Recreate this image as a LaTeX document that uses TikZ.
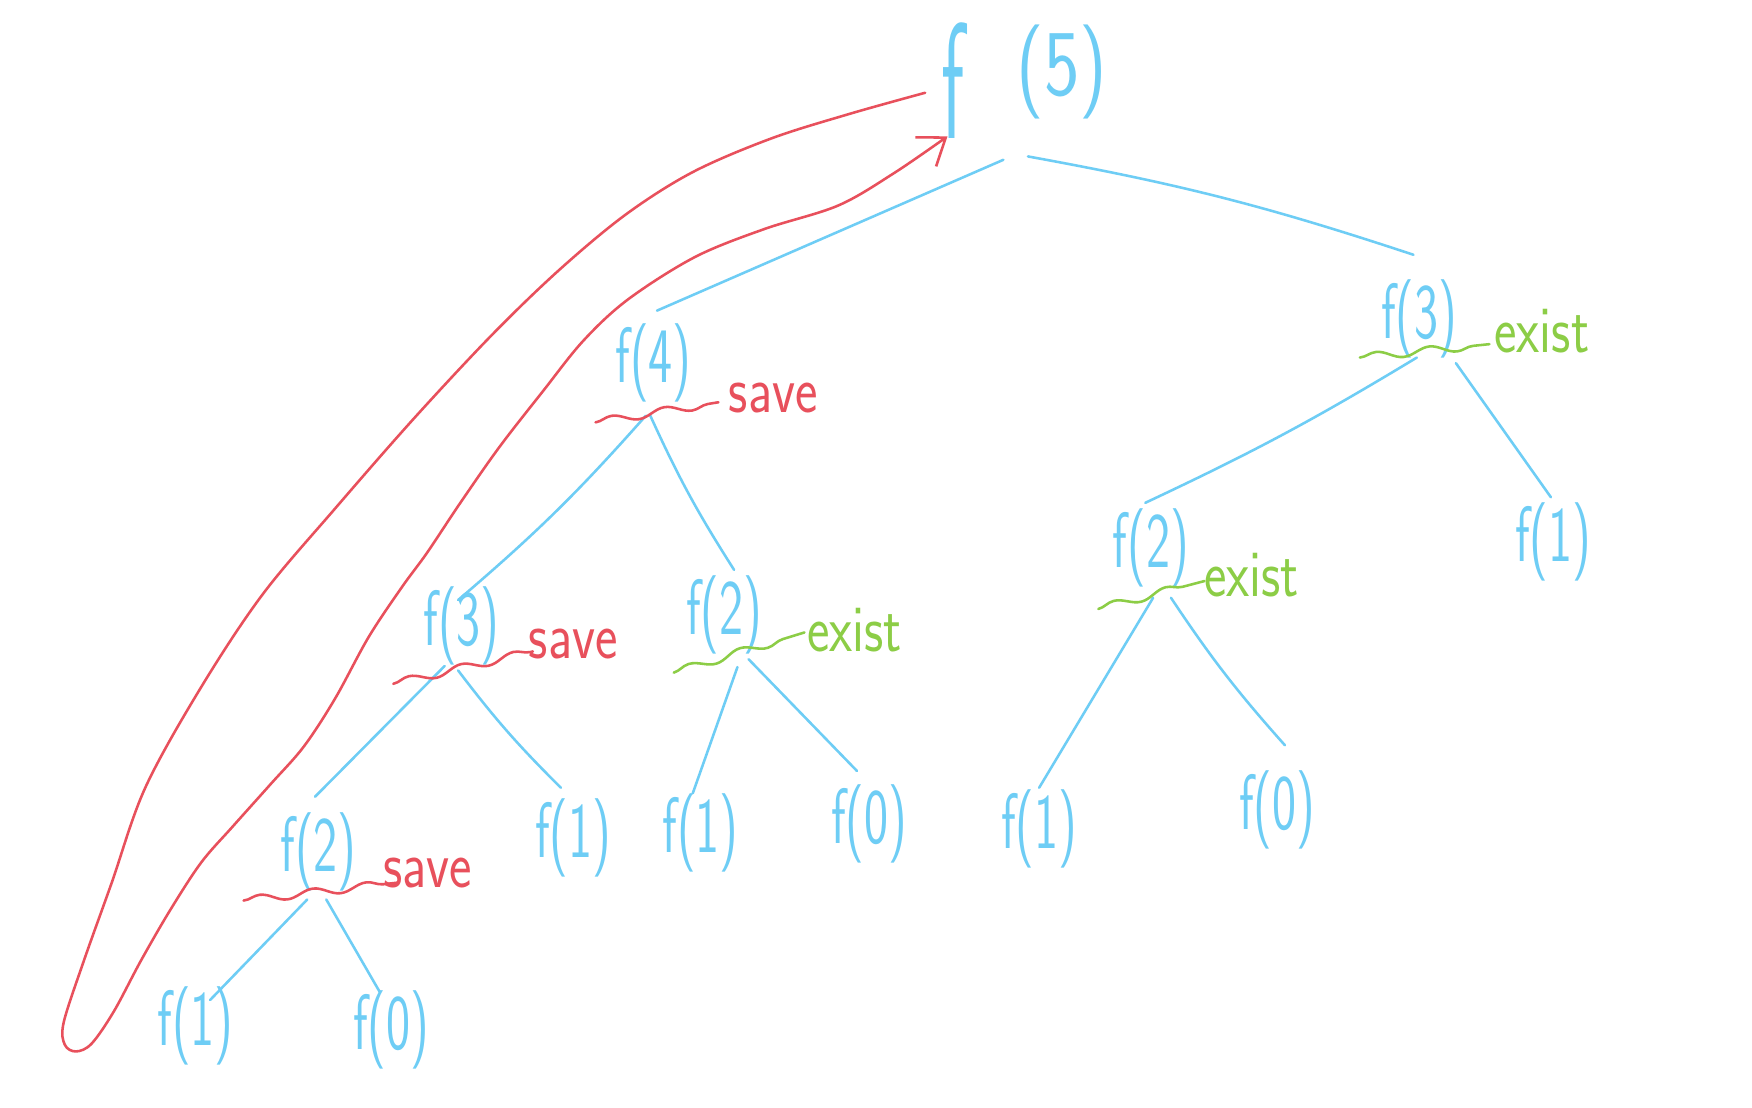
\documentclass[tikz,border=0pt]{standalone}
\usepackage{graphicx}
\usetikzlibrary{calc,decorations.pathmorphing,arrows.meta}
\definecolor{tb}{RGB}{110,205,245}
\definecolor{tr}{RGB}{232,80,92}
\definecolor{tg}{RGB}{140,205,70}
\newcommand{\nar}[2]{\scalebox{#1}[1]{#2}}
\begin{document}
\begin{tikzpicture}[x=0.1mm,y=-0.1mm,
  lbl/.style={text=tb,inner sep=0pt,font=\sffamily\fontsize{20}{20}\selectfont},
  big/.style={text=tb,inner sep=0pt,font=\sffamily\fontsize{24}{24}\selectfont},
  savetxt/.style={text=tr,inner sep=0pt,font=\sffamily\fontsize{17}{17}\selectfont},
  existtxt/.style={text=tg,inner sep=0pt,font=\sffamily\fontsize{17}{17}\selectfont},
  edge/.style={draw=tb,line width=0.65pt,line cap=round},
  wavr/.style={draw=tr,line width=0.65pt,line cap=round,decorate,decoration={snake,amplitude=0.35mm,segment length=4.8mm}},
  wavg/.style={draw=tg,line width=0.65pt,line cap=round,decorate,decoration={snake,amplitude=0.35mm,segment length=4.8mm}}
]
\useasboundingbox[fill=white] (0,0) rectangle (1568,991);

% nodes
\node[big] (f5) at (917,72) {\raisebox{-0.45em}{\scalebox{0.85}[1.75]{f}}\hspace{0.55em}\nar{0.8}{(5)}};
\node[lbl] (f4) at (585,325) {\nar{0.65}{f(4)}};
\node[lbl] (f3L) at (413,560) {\nar{0.65}{f(3)}};
\node[lbl] (f2M) at (648,550) {\nar{0.65}{f(2)}};
\node[lbl] (f2BL) at (285,762) {\nar{0.65}{f(2)}};
\node[lbl] (f1a) at (513,750) {\nar{0.65}{f(1)}};
\node[lbl] (f1b) at (627,745) {\nar{0.65}{f(1)}};
\node[lbl] (f0a) at (778,737) {\nar{0.65}{f(0)}};
\node[lbl] (f3R) at (1270,285) {\nar{0.65}{f(3)}};
\node[lbl] (f2R) at (1030,490) {\nar{0.65}{f(2)}};
\node[lbl] (f1R) at (1390,485) {\nar{0.65}{f(1)}};
\node[lbl] (f1c) at (930,742) {\nar{0.65}{f(1)}};
\node[lbl] (f0b) at (1143,725) {\nar{0.65}{f(0)}};
\node[lbl] (f1d) at (175,918) {\nar{0.65}{f(1)}};
\node[lbl] (f0c) at (350,922) {\nar{0.65}{f(0)}};

\node[savetxt] (s4) at (692,356) {\nar{0.8}{save}};
\node[savetxt] (s3) at (513,576) {\nar{0.8}{save}};
\node[savetxt] (s2) at (383,781) {\nar{0.8}{save}};
\node[existtxt] (e2M) at (765,564) {\nar{0.8}{exist}};
\node[existtxt] (e3R) at (1380,296) {\nar{0.8}{exist}};
\node[existtxt] (e2R) at (1120,515) {\nar{0.8}{exist}};

% edges
\draw[edge] ($(f5)+(-19,71)$) -- ($(f4)+(3,-47)$);
\draw[edge] ($(f5)+(3,68)$) to[bend left=4] ($(f3R)+(-5,-57)$);
\draw[edge] ($(f4)+(-7,47)$) to[bend left=4] ($(f3L)+(-3,-23)$);
\draw[edge] ($(f4)+(-3,47)$) to[bend right=4] ($(f2M)+(9,-40)$);
\draw[edge] ($(f3L)+(-15,36)$) -- ($(f2BL)+(-3,-49)$);
\draw[edge] ($(f3L)+(-3,40)$) to[bend right=4] ($(f1a)+(-11,-45)$);
\draw[edge] ($(f2M)+(12,47)$) -- ($(f1b)+(-7,-35)$);
\draw[edge] ($(f2M)+(22,40)$) -- ($(f0a)+(-11,-47)$);
\draw[edge] ($(f3R)+(-2,35)$) to[bend left=3] ($(f2R)+(-5,-40)$);
\draw[edge] ($(f3R)+(33,40)$) -- ($(f1R)+(-2,-40)$);
\draw[edge] ($(f2R)+(2,45)$) -- ($(f1c)+(0,-37)$);
\draw[edge] ($(f2R)+(18,45)$) to[bend right=4] ($(f0b)+(7,-58)$);
\draw[edge] ($(f2BL)+(-10,43)$) -- ($(f1d)+(13,-23)$);
\draw[edge] ($(f2BL)+(7,43)$) -- ($(f0c)+(-10,-34)$);

% wavy underlines
\draw[wavr] ($(f4)+(-52,53)$) -- ($(f4)+(58,35)$);
\draw[wavr] ($(f3L)+(-61,52)$) -- ($(f3L)+(64,23)$);
\draw[wavr] ($(f2BL)+(-67,44)$) -- ($(f2BL)+(70,28)$);
\draw[wavg] ($(f2M)+(-45,52)$) -- ($(f2M)+(72,16)$);
\draw[wavg] ($(f3R)+(-53,35)$) -- ($(f3R)+(63,23)$);
\draw[wavg] ($(f2R)+(-47,55)$) -- ($(f2R)+(48,30)$);

% red recursion loop
\draw[tr,line width=0.65pt,line cap=round,line join=round,-{Straight Barb[length=2.2mm,width=3.2mm]}]
  plot[smooth,tension=0.55] coordinates {
  (828,83) (760,102) (690,124) (620,154) (560,192) (500,242) (440,300)
  (370,375) (300,455) (235,532) (180,615) (130,705) (100,790) (75,860)
  (57,915) (58,935) (68,941) (82,934) (102,905) (126,860) (152,815)
  (180,772) (208,740) (242,702) (272,668) (300,625) (330,570) (360,525)
  (382,495) (412,450) (447,400) (486,350) (522,305) (562,268) (622,230)
  (684,205) (750,184) (800,155) (848,122)};
\end{tikzpicture}
\end{document}
